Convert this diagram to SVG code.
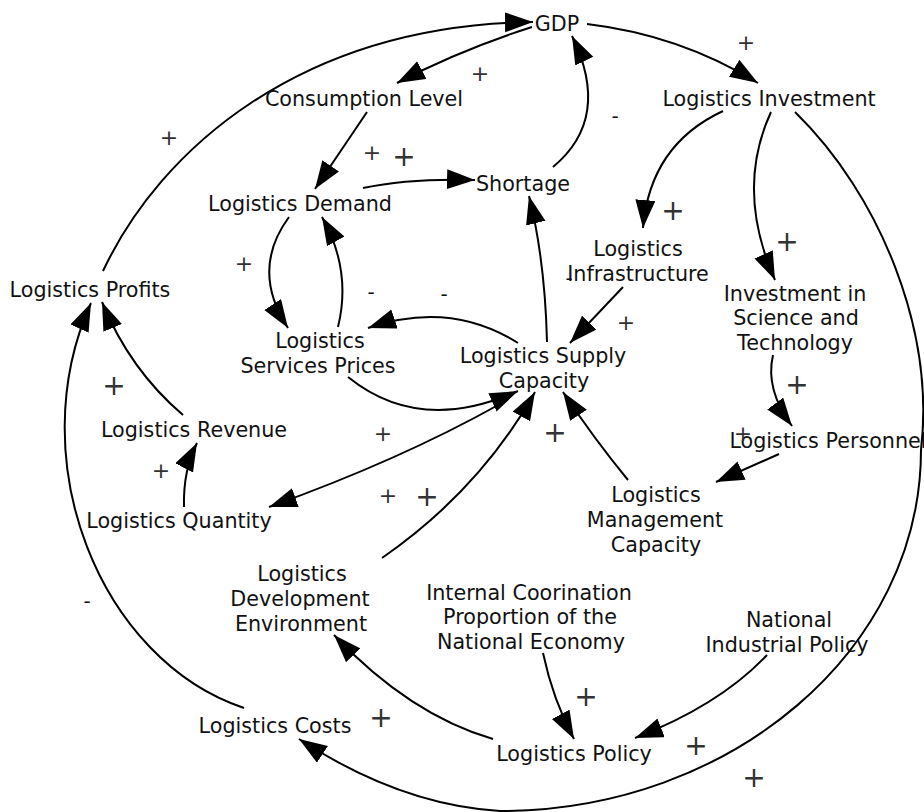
<svg xmlns="http://www.w3.org/2000/svg" width="924" height="812" viewBox="0 0 924 812">
<style>
.n{font-family:"DejaVu Sans",Verdana,sans-serif;font-size:20.7px;fill:#111;text-anchor:middle}
.p{font-family:"DejaVu Sans ExtraLight","DejaVu Sans",Verdana,sans-serif;fill:#333;text-anchor:middle}
.s{font-size:22px}
.l{font-size:28px}
.m{font-family:"DejaVu Sans",Verdana,sans-serif;font-size:20px;fill:#111;text-anchor:middle}
.c{fill:none;stroke:#000;stroke-width:2}
</style>
<defs>
<marker id="a" markerWidth="30" markerHeight="22" refX="28" refY="10" orient="auto" markerUnits="userSpaceOnUse">
<path d="M0,0 L28,10 L0,20 z" fill="#000"/>
</marker>
</defs>
<rect width="924" height="812" fill="#fff"/>
<g id="connectors">
<path class="c" d="M103,271 C160,150 300,25 533,22" marker-end="url(#a)"/>
<path class="c" d="M532,27 Q460,50 397,83" marker-end="url(#a)"/>
<path class="c" d="M587,24 Q680,35 758,83" marker-end="url(#a)"/>
<path class="c" d="M367,112 L315,189" marker-end="url(#a)"/>
<path class="c" d="M363,188 Q410,178 475,180" marker-end="url(#a)"/>
<path class="c" d="M553,167 Q612,118 572,36" marker-end="url(#a)"/>
<path class="c" d="M723,111 Q650,145 643,228" marker-end="url(#a)"/>
<path class="c" d="M771,112 Q735,190 775,280" marker-end="url(#a)"/>
<path class="c" d="M795,112 C880,195 935,330 921,450 C921,649 732,811 500,811 Q400,805 299,739" marker-end="url(#a)"/>
<path class="c" d="M244,708 C100,660 20,460 91,303" marker-end="url(#a)"/>
<path class="c" d="M183,415 Q130,370 102,302" marker-end="url(#a)"/>
<path class="c" d="M184,507 Q183,470 197,443" marker-end="url(#a)"/>
<path class="c" d="M289,217 Q250,270 288,328" marker-end="url(#a)"/>
<path class="c" d="M338,327 Q352,270 322,217" marker-end="url(#a)"/>
<path class="c" d="M518,343 Q450,300 368,328" marker-end="url(#a)"/>
<path class="c" d="M348,377 Q420,435 518,391" marker-end="url(#a)"/>
<path class="c" d="M500,404 Q400,460 269,507" marker-end="url(#a)"/>
<path class="c" d="M382,558 Q480,490 535,392" marker-end="url(#a)"/>
<path class="c" d="M547,342 Q545,260 529,196" marker-end="url(#a)"/>
<path class="c" d="M623,287 L570,343" marker-end="url(#a)"/>
<path class="c" d="M628,480 Q595,440 563,392" marker-end="url(#a)"/>
<path class="c" d="M773,355 Q765,390 792,426" marker-end="url(#a)"/>
<path class="c" d="M779,454 L716,482" marker-end="url(#a)"/>
<path class="c" d="M493,739 Q410,715 334,635" marker-end="url(#a)"/>
<path class="c" d="M543,653 Q553,700 574,739" marker-end="url(#a)"/>
<path class="c" d="M767,655 Q720,705 635,738" marker-end="url(#a)"/>
</g>
<g id="gdp"><text class="n" x="557" y="31">GDP</text></g>
<g id="consumption"><text class="n" x="364" y="106">Consumption Level</text></g>
<g id="investment"><text class="n" x="769" y="106">Logistics Investment</text></g>
<g id="shortage"><text class="n" x="523" y="191">Shortage</text></g>
<g id="demand"><text class="n" x="300" y="211">Logistics Demand</text></g>
<g id="infrastructure"><text class="n" x="638" y="256">Logistics</text><text class="n" x="638" y="281">Infrastructure</text></g>
<g id="science"><text class="n" x="795" y="301">Investment in</text><text class="n" x="796" y="325">Science and</text><text class="n" x="795" y="350">Technology</text></g>
<g id="profits"><text class="n" x="90" y="297">Logistics Profits</text></g>
<g id="prices"><text class="n" x="320" y="348">Logistics</text><text class="n" x="318" y="373">Services Prices</text></g>
<g id="supply"><text class="n" x="543" y="363">Logistics Supply</text><text class="n" x="544" y="388">Capacity</text></g>
<g id="revenue"><text class="n" x="194" y="437">Logistics Revenue</text></g>
<g id="personnel"><text class="n" x="828" y="448">Logistics Personnel</text></g>
<g id="management"><text class="n" x="656" y="502">Logistics</text><text class="n" x="655" y="527">Management</text><text class="n" x="656" y="552">Capacity</text></g>
<g id="quantity"><text class="n" x="179" y="528">Logistics Quantity</text></g>
<g id="environment"><text class="n" x="302" y="581">Logistics</text><text class="n" x="300" y="606">Development</text><text class="n" x="301" y="631">Environment</text></g>
<g id="coordination"><text class="n" x="529" y="600">Internal Coorination</text><text class="n" x="530" y="624">Proportion of the</text><text class="n" x="531" y="649">National Economy</text></g>
<g id="industrial"><text class="n" x="789" y="627">National</text><text class="n" x="787" y="652">Industrial Policy</text></g>
<g id="costs"><text class="n" x="275" y="733">Logistics Costs</text></g>
<g id="policy"><text class="n" x="574" y="761">Logistics Policy</text></g>
<g id="polarities">
<text class="p s" x="169" y="145">+</text>
<text class="p s" x="480" y="81">+</text>
<text class="p s" x="746" y="50">+</text>
<text class="p s" x="372" y="160">+</text>
<text class="p s" x="244" y="271">+</text>
<text class="p s" x="626" y="330">+</text>
<text class="p s" x="743" y="441">+</text>
<text class="p s" x="161" y="478">+</text>
<text class="p s" x="383" y="441">+</text>
<text class="p s" x="388" y="503">+</text>
<text class="p l" x="404" y="166">+</text>
<text class="p l" x="673" y="220">+</text>
<text class="p l" x="787" y="251">+</text>
<text class="p l" x="797" y="394">+</text>
<text class="p l" x="114" y="395">+</text>
<text class="p l" x="555" y="442">+</text>
<text class="p l" x="427" y="506">+</text>
<text class="p l" x="381" y="727">+</text>
<text class="p l" x="586" y="706">+</text>
<text class="p l" x="696" y="755">+</text>
<text class="p l" x="754" y="787">+</text>
<text class="m" x="615" y="123">-</text>
<text class="m" x="371" y="299">-</text>
<text class="m" x="444" y="301">-</text>
<text class="m" x="569" y="285">-</text>
<text class="m" x="87" y="608">-</text>
</g>
</svg>
